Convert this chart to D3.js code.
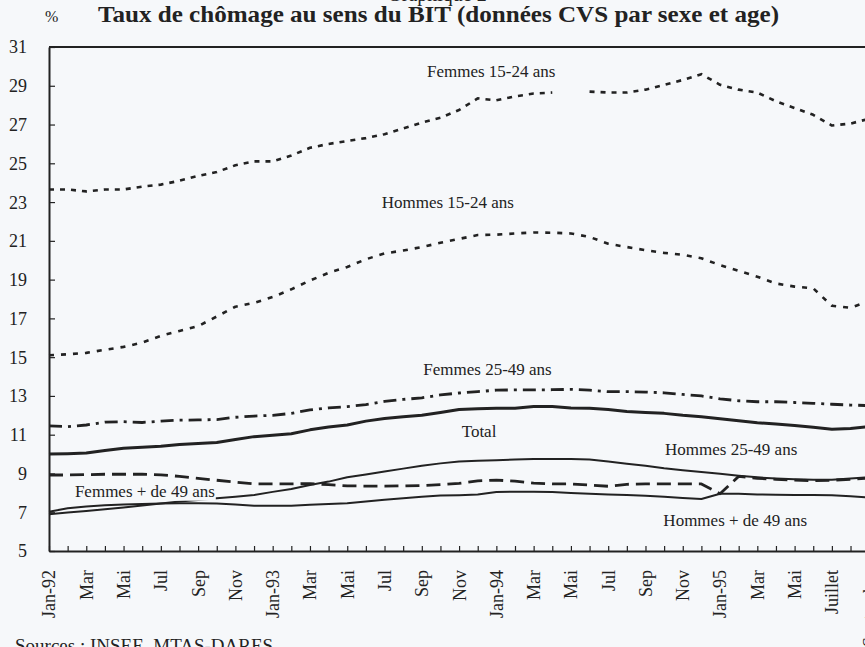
<!DOCTYPE html>
<html>
<head>
<meta charset="utf-8">
<script src="https://cdn.jsdelivr.net/npm/d3@7"></script>
<style>
  body { margin: 0; background: #f6f8fa; }
  svg { display: block; font-family: "Liberation Serif", "Times New Roman", serif; }
</style>
</head>
<body>
<main></main>
<script>
const w = 865;
const h = 647;
const bg = "#f6f8fa";
const ink = "#222";

// monthly points, Jan-92 .. Sep-95 (45 months)
const tickLabels = ["Jan-92", "Mar", "Mai", "Jul", "Sep", "Nov", "Jan-93", "Mar", "Mai", "Jul", "Sep", "Nov",
  "Jan-94", "Mar", "Mai", "Jul", "Sep", "Nov", "Jan-95", "Mar", "Mai", "Juillet", "Septembre"];
const yTicks = [5, 7, 9, 11, 13, 15, 17, 19, 21, 23, 25, 27, 29, 31];

const femmes1524 = [23.65, 23.65, 23.55, 23.65, 23.65, 23.8, 23.9, 24.1, 24.35, 24.55,
  24.9, 25.1, 25.1, 25.4, 25.8, 26.0, 26.15, 26.3, 26.5, 26.8,
  27.1, 27.35, 27.75, 28.35, 28.25, 28.45, 28.6, 28.65, null, 28.7,
  28.65, 28.65, 28.8, 29.05, 29.3, 29.6, 29.05, 28.8, 28.65, 28.2,
  27.85, 27.5, 26.95, 27.05, 27.3];
const hommes1524 = [15.1, 15.15, 15.22, 15.38, 15.53, 15.75, 16.1, 16.35, 16.6, 17.1,
  17.6, 17.8, 18.1, 18.5, 18.95, 19.35, 19.65, 20.05, 20.35, 20.5,
  20.68, 20.9, 21.1, 21.3, 21.32, 21.38, 21.43, 21.42, 21.38, 21.2,
  20.85, 20.68, 20.52, 20.38, 20.28, 20.1, 19.75, 19.45, 19.15, 18.8,
  18.64, 18.55, 17.65, 17.55, 17.9];
const femmes2549 = [11.45, 11.42, 11.5, 11.65, 11.67, 11.63, 11.7, 11.75, 11.76, 11.78,
  11.9, 11.96, 12.0, 12.1, 12.28, 12.38, 12.45, 12.55, 12.72, 12.82,
  12.9, 13.05, 13.15, 13.22, 13.3, 13.31, 13.31, 13.32, 13.34, 13.3,
  13.22, 13.22, 13.2, 13.16, 13.08, 13.0, 12.85, 12.75, 12.7, 12.7,
  12.66, 12.62, 12.57, 12.53, 12.5];
const total = [10.0, 10.02, 10.05, 10.18, 10.3, 10.35, 10.4, 10.5, 10.55, 10.6,
  10.75, 10.9, 10.97, 11.05, 11.25, 11.4, 11.5, 11.7, 11.83, 11.93,
  12.0, 12.15, 12.3, 12.34, 12.36, 12.36, 12.45, 12.45, 12.38, 12.36,
  12.3, 12.2, 12.15, 12.1, 12.0, 11.93, 11.82, 11.72, 11.62, 11.55,
  11.48, 11.38, 11.28, 11.32, 11.42];
const hommes2549 = [6.9, 6.98, 7.06, 7.15, 7.25, 7.35, 7.45, 7.55, 7.63, 7.72,
  7.8, 7.89, 8.05, 8.2, 8.4, 8.58, 8.8, 8.95, 9.1, 9.25,
  9.4, 9.52, 9.62, 9.66, 9.68, 9.72, 9.75, 9.75, 9.75, 9.72,
  9.62, 9.5, 9.4, 9.27, 9.17, 9.08, 8.98, 8.88, 8.8, 8.74,
  8.7, 8.67, 8.68, 8.74, 8.8];
const femmes49 = [8.92, 8.92, 8.94, 8.96, 8.96, 8.96, 8.93, 8.85, 8.75, 8.65,
  8.55, 8.46, 8.46, 8.46, 8.48, 8.42, 8.36, 8.35, 8.35, 8.36,
  8.38, 8.42, 8.49, 8.62, 8.66, 8.6, 8.5, 8.46, 8.46, 8.4,
  8.34, 8.44, 8.46, 8.46, 8.46, 8.46, 7.95, 8.85, 8.75, 8.7,
  8.66, 8.63, 8.65, 8.7, 8.76];
const hommes49 = [7.03, 7.2, 7.3, 7.36, 7.4, 7.42, 7.45, 7.46, 7.46, 7.45,
  7.4, 7.34, 7.34, 7.34, 7.38, 7.42, 7.46, 7.55, 7.65, 7.72,
  7.8, 7.86, 7.88, 7.92, 8.04, 8.06, 8.06, 8.04, 7.99, 7.95,
  7.92, 7.89, 7.85, 7.8, 7.74, 7.68, 7.95, 7.95, 7.92, 7.9,
  7.89, 7.89, 7.87, 7.82, 7.76];

// label anchors in data space: [text, month index, value]
const labels = [
  ["Femmes 15-24 ans", 20.28, 29.44],
  ["Hommes 15-24 ans", 17.85, 22.68],
  ["Femmes 25-49 ans", 20.08, 14.08],
  ["Total", 22.14, 10.9],
  ["Hommes 25-49 ans", 33.05, 9.95],
  ["Femmes + de 49 ans", 1.39, 7.8],
  ["Hommes + de 49 ans", 32.96, 6.29],
];

const series = [
  { values: femmes1524, width: 2.6, dash: "5,6" },
  { values: hommes1524, width: 2.6, dash: "5,7" },
  { values: femmes2549, width: 2.8, dash: "13,6,3,6" },
  { values: total, width: 3, dash: null },
  { values: hommes2549, width: 2, dash: null },
  { values: femmes49, width: 2.8, dash: "14,7" },
  { values: hommes49, width: 2, dash: null },
];

const plotLeft = 49;
const plotTop = 47;
const plotBottom = 551;
const step = 18.64;

const svg = d3
  .select("main")
  .append("svg")
  .attr("width", w)
  .attr("height", h);

svg.append("rect").attr("width", w).attr("height", h).attr("fill", bg);

const x = d3.scaleLinear().domain([0, 44]).range([plotLeft, plotLeft + 44 * step]);
const y = d3.scaleLinear().domain([5, 31]).range([plotBottom, plotTop]);

// frame top line
svg
  .append("line")
  .attr("x1", x(0))
  .attr("x2", x(45))
  .attr("y1", y(31))
  .attr("y2", y(31))
  .attr("stroke", ink)
  .attr("stroke-width", 2);

const yAxis = svg
  .append("g")
  .attr("transform", `translate(${x(0)},0)`)
  .call(
    d3.axisLeft(y).tickValues(yTicks).tickSizeInner(-6).tickSizeOuter(0).tickPadding(22)
  );
yAxis.select(".domain").attr("stroke", ink).attr("stroke-width", 2);
yAxis.selectAll(".tick line").attr("stroke", ink).attr("stroke-width", 1.2);
yAxis
  .selectAll(".tick text")
  .attr("font-family", "Liberation Serif")
  .attr("font-size", 18)
  .attr("fill", ink)
  .attr("dy", "0.33em");

const xAxis = svg
  .append("g")
  .attr("transform", `translate(0,${y(5)})`)
  .call(
    d3
      .axisBottom(x)
      .tickValues(d3.range(0, 45))
      .tickSizeInner(-5)
      .tickSizeOuter(0)
      .tickFormat((d) => (d % 2 === 0 ? tickLabels[d / 2] : ""))
  );
xAxis.select(".domain").attr("stroke", ink).attr("stroke-width", 2);
xAxis.selectAll(".tick line").attr("stroke", ink).attr("stroke-width", 1.2);
xAxis
  .selectAll(".tick text")
  .attr("font-family", "Liberation Serif")
  .attr("font-size", 18)
  .attr("fill", ink)
  .attr("transform", "rotate(-90)")
  .attr("text-anchor", "end")
  .attr("x", -19)
  .attr("y", 0)
  .attr("dy", "0.33em");

const line = d3
  .line()
  .defined((d) => d !== null)
  .x((d, i) => x(i))
  .y((d) => y(d));

svg
  .append("g")
  .selectAll("path")
  .data(series)
  .join("path")
  .attr("d", (d) => line(d.values))
  .attr("fill", "none")
  .attr("stroke", ink)
  .attr("stroke-width", (d) => d.width)
  .attr("stroke-dasharray", (d) => d.dash)
  .attr("stroke-linejoin", "round");

const lab = svg.append("g").selectAll("g").data(labels).join("g");
lab
  .append("text")
  .attr("x", (d) => x(d[1]))
  .attr("y", (d) => y(d[2]))
  .attr("font-size", 17)
  .attr("fill", ink)
  .text((d) => d[0]);
lab.each(function () {
  const g = d3.select(this);
  const b = g.select("text").node().getBBox();
  g.insert("rect", "text")
    .attr("x", b.x - 1)
    .attr("y", b.y)
    .attr("width", b.width + 2)
    .attr("height", b.height)
    .attr("fill", bg);
});

// header: "Graphique 2" is cut by the top edge in the source
svg
  .append("text")
  .attr("x", 437)
  .attr("y", 1)
  .attr("text-anchor", "middle")
  .attr("font-size", 20)
  .attr("fill", ink)
  .text("Graphique 2");

svg
  .append("text")
  .attr("x", 45)
  .attr("y", 22)
  .attr("font-size", 16)
  .attr("fill", ink)
  .text("%");

svg
  .append("text")
  .attr("x", 98)
  .attr("y", 22)
  .attr("font-size", 24)
  .attr("font-weight", "bold")
  .attr("fill", ink)
  .attr("textLength", 681)
  .attr("lengthAdjust", "spacingAndGlyphs")
  .text("Taux de chômage au sens du BIT (données CVS par sexe et age)");

svg
  .append("text")
  .attr("x", 15)
  .attr("y", 652)
  .attr("font-size", 19)
  .attr("fill", ink)
  .text("Sources : INSEE, MTAS-DARES");
</script>
</body>
</html>
